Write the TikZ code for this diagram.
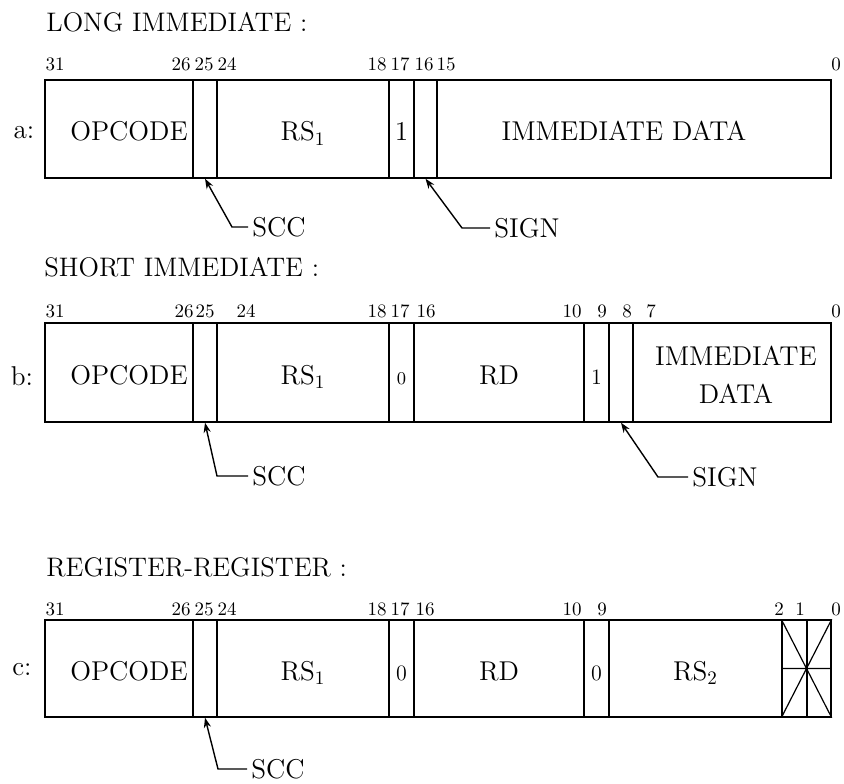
\documentclass[tikz,border=0pt]{standalone}
\usepackage{fontspec}
\usetikzlibrary{fit,arrows.meta}
\tikzset{
  field/.style={draw,line width=0.7pt,inner sep=0pt},
  ftext/.style={inner sep=0pt,text height=0.68em,text depth=0pt,yshift=-2.5pt,
    font=\fontsize{13.6}{16}\selectfont},
  ftwo/.style={inner sep=0pt,align=center,yshift=-1pt,font=\fontsize{13.6}{19}\selectfont},
  fsmall/.style={ftext,font=\fontsize{9}{10}\selectfont},
  fmid/.style={ftext,font=\fontsize{11}{12}\selectfont},
  title/.style={anchor=west,inner sep=0pt,font=\fontsize{13.4}{16}\selectfont},
  rowlab/.style={inner sep=0pt,font=\fontsize{13.6}{16}\selectfont},
  note/.style={anchor=west,inner sep=2pt,font=\fontsize{13.6}{16}\selectfont},
  bitno/.style={anchor=base,inner sep=0pt,font=\fontsize{9.5}{10}\selectfont}
}
\begin{document}
\begin{tikzpicture}[x=0.5pt,y=-0.5pt,>={Stealth[length=5pt,width=3.6pt]}]
  \useasboundingbox (0,0) rectangle (844,783);

  \node[title] (tLong) at (46,22) {LONG IMMEDIATE :};
  \node[title] (tShort) at (44,267) {SHORT IMMEDIATE :};
  \node[title] (tReg) at (46,567) {REGISTER-REGISTER :};

  % a: long immediate
  \node[rowlab] (la) at (24,133) {a:};
  \node[field,fit={(45,80)(193,178)},label={[ftext,xshift=5pt]center:OPCODE}] (aOp) {};
  \node[field,fit={(193,80)(217,178)}] (aScc) {};
  \node[field,fit={(217,80)(389,178)},label={[ftext]center:RS\textsubscript{1}}] (aRs) {};
  \node[field,fit={(389,80)(414,178)},label={[ftext]center:1}] (aOne) {};
  \node[field,fit={(414,80)(437,178)}] (aSign) {};
  \node[field,fit={(437,80)(831,178)},label={[ftext,xshift=-5pt]center:IMMEDIATE DATA}] (aImm) {};
  \foreach \x/\t [count=\i] in {55/31,181/26,204/25,227/24,377/18,400/17,424/16,446/15,836/0}
    \node[bitno] (abit\i) at (\x,70) {\t};
  \node[note] (aSccLab) at (248,227) {SCC};
  \draw[->,line width=0.7pt] (aSccLab.west) -- ++(-16,0) -- (aScc.south);
  \node[note] (aSignLab) at (490,228) {SIGN};
  \draw[->,line width=0.7pt] (aSignLab.west) -- ++(-28,0) -- (aSign.south);

  % b: short immediate
  \node[rowlab] (lb) at (22,376) {b:};
  \node[field,fit={(45,323)(193,422)},label={[ftext,xshift=5pt]center:OPCODE}] (bOp) {};
  \node[field,fit={(193,323)(217,422)}] (bScc) {};
  \node[field,fit={(217,323)(389,422)},label={[ftext]center:RS\textsubscript{1}}] (bRs) {};
  \node[field,fit={(389,323)(414,422)},label={[fsmall]center:0}] (bZero) {};
  \node[field,fit={(414,323)(584,422)},label={[ftext]center:RD}] (bRd) {};
  \node[field,fit={(584,323)(609,422)},label={[fmid]center:1}] (bOne) {};
  \node[field,fit={(609,323)(633,422)}] (bSign) {};
  \node[field,fit={(633,323)(831,422)},label={[ftwo,xshift=2pt]center:IMMEDIATE\\DATA}] (bImm) {};
  \foreach \x/\t [count=\i] in {55/31,184/26,205/25,246/24,377/18,400/17,426/16,572/10,602/9,627/8,651/7,836/0}
    \node[bitno] (bbit\i) at (\x,317) {\t};
  \node[note] (bSccLab) at (248,476) {SCC};
  \draw[->,line width=0.7pt] (bSccLab.west) -- ++(-31,0) -- (bScc.south);
  \node[note] (bSignLab) at (688,477) {SIGN};
  \draw[->,line width=0.7pt] (bSignLab.west) -- ++(-30,0) -- (bSign.south);

  % c: register-register
  \node[rowlab] (lc) at (22,670) {c:};
  \node[field,fit={(45,620)(193,717)},label={[ftext,xshift=5pt]center:OPCODE}] (cOp) {};
  \node[field,fit={(193,620)(217,717)}] (cScc) {};
  \node[field,fit={(217,620)(389,717)},label={[ftext]center:RS\textsubscript{1}}] (cRs) {};
  \node[field,fit={(389,620)(414,717)},label={[fmid]center:0}] (cZeroA) {};
  \node[field,fit={(414,620)(584,717)},label={[ftext]center:RD}] (cRd) {};
  \node[field,fit={(584,620)(609,717)},label={[fmid]center:0}] (cZeroB) {};
  \node[field,fit={(609,620)(782,717)},label={[ftext]center:RS\textsubscript{2}}] (cRsB) {};
  \node[field,fit={(782,620)(807,717)}] (cXa) {};
  \node[field,fit={(807,620)(831,717)}] (cXb) {};
  \draw[line width=0.6pt] (cXa.north west) -- (cXb.south east)
    (cXa.south west) -- (cXb.north east) (cXa.west) -- (cXb.east);
  \foreach \x/\t [count=\i] in {55/31,181/26,204/25,227/24,377/18,400/17,425/16,572/10,602/9,779/2,800/1,836/0}
    \node[bitno] (cbit\i) at (\x,615) {\t};
  \node[note] (cSccLab) at (247,769) {SCC};
  \draw[->,line width=0.7pt] (cSccLab.west) -- ++(-29,0) -- (cScc.south);
\end{tikzpicture}
\end{document}
